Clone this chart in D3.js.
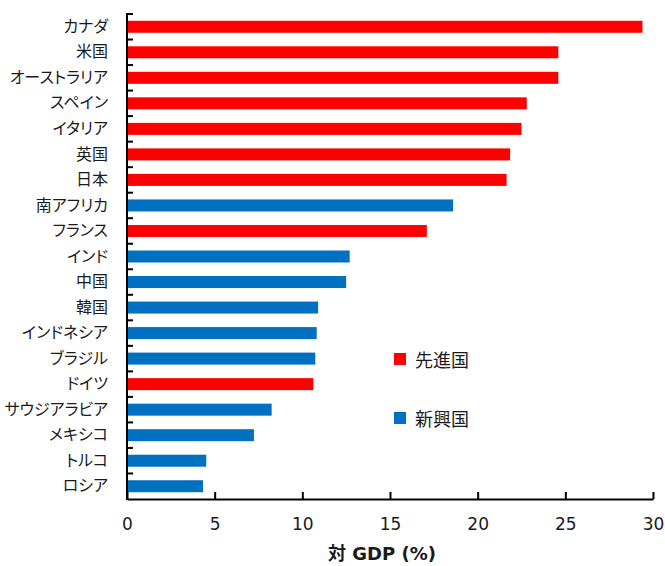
<!DOCTYPE html>
<html>
<head>
<meta charset="utf-8">
<script src="https://cdn.jsdelivr.net/npm/d3@7"></script>
<style>
  html, body { margin: 0; padding: 0; background: #fff; }
  svg { display: block; }
  .cat text { font-feature-settings: "palt"; }
</style>
</head>
<body>
<svg id="chart" width="665" height="566"></svg>
<script>
// Countries, top to bottom
const countries = ["カナダ", "米国", "オーストラリア", "スペイン", "イタリア", "英国", "日本",
  "南アフリカ", "フランス", "インド", "中国", "韓国", "インドネシア", "ブラジル", "ドイツ",
  "サウジアラビア", "メキシコ", "トルコ", "ロシア"];
// Value as % of GDP
const values = [29.4, 24.6, 24.6, 22.8, 22.5, 21.85, 21.65,
  18.6, 17.1, 12.7, 12.5, 10.9, 10.82, 10.74, 10.63,
  8.25, 7.24, 4.52, 4.34];
// Group: 先進国 (advanced) or 新興国 (emerging)
const groups = ["先進国", "先進国", "先進国", "先進国", "先進国", "先進国", "先進国",
  "新興国", "先進国", "新興国", "新興国", "新興国", "新興国", "新興国", "先進国",
  "新興国", "新興国", "新興国", "新興国"];
const legendGroups = ["先進国", "新興国"];
const groupColors = ["#FF0000", "#0070C0"];
const xTicks = [0, 5, 10, 15, 20, 25, 30];
const xTitle = "対 GDP (%)";

(function () {
  const data = countries.map((c, i) => ({ name: c, value: values[i], group: groups[i] }));

  const svg = d3.select("#chart");
  const plotLeft = 127, plotRight = 653, plotTop = 14, plotBottom = 499;
  const jpFont = "'Noto Sans CJK JP', 'Noto Sans', sans-serif";
  const latinFont = "'DejaVu Sans', Verdana, sans-serif";

  const x = d3.scaleLinear().domain([0, 30]).range([plotLeft, plotRight]);
  const y = d3.scaleBand().domain(countries).range([plotTop, plotBottom])
    .paddingInner(0.53).paddingOuter(0.265);
  const color = d3.scaleOrdinal().domain(legendGroups).range(groupColors);

  // Bars
  svg.append("g").selectAll("rect").data(data).join("rect")
    .attr("x", x(0))
    .attr("y", d => y(d.name))
    .attr("width", d => x(d.value) - x(0))
    .attr("height", y.bandwidth())
    .attr("fill", d => color(d.group));

  // Category labels
  const yAxis = svg.append("g").attr("class", "cat").attr("transform", `translate(${plotLeft},0)`)
    .call(d3.axisLeft(y).tickSize(0).tickPadding(19));
  yAxis.select(".domain").remove();
  yAxis.selectAll("text")
    .attr("font-family", jpFont).attr("font-size", 16).attr("fill", "#1a1a1a");

  // Vertical axis line with inward ticks at category boundaries
  const yLine = svg.append("g").attr("stroke", "#000").attr("stroke-width", 2);
  yLine.append("line").attr("x1", plotLeft).attr("x2", plotLeft)
    .attr("y1", plotTop - 1).attr("y2", plotBottom + 1);
  yLine.selectAll("line.tk").data(d3.range(countries.length)).join("line")
    .attr("class", "tk")
    .attr("x1", plotLeft).attr("x2", plotLeft + 6)
    .attr("y1", i => y.range()[0] + i * y.step())
    .attr("y2", i => y.range()[0] + i * y.step());

  // Horizontal axis
  const xAxis = svg.append("g").attr("transform", `translate(0,${plotBottom})`)
    .call(d3.axisBottom(x).tickValues(xTicks).tickSizeInner(-7).tickSizeOuter(0).tickPadding(19));
  xAxis.select(".domain").attr("stroke", "#000").attr("stroke-width", 2);
  xAxis.selectAll(".tick line").attr("stroke", "#000").attr("stroke-width", 2);
  xAxis.selectAll("text")
    .attr("font-family", latinFont)
    .attr("font-size", 17).attr("fill", "#1a1a1a");

  // Axis title
  svg.append("text")
    .attr("x", 382).attr("y", 553)
    .attr("text-anchor", "middle").attr("dominant-baseline", "central")
    .attr("font-family", latinFont + ", " + jpFont).attr("font-weight", "bold").attr("font-size", 18)
    .attr("fill", "#1a1a1a")
    .text(xTitle);

  // Legend
  const legend = svg.append("g").selectAll("g").data(legendGroups).join("g")
    .attr("transform", (d, i) => `translate(394,${359 + i * 59})`);
  legend.append("rect")
    .attr("x", 0).attr("y", -6).attr("width", 12).attr("height", 12)
    .attr("fill", d => color(d));
  legend.append("text")
    .attr("x", 21).attr("y", 0).attr("dominant-baseline", "central")
    .attr("font-family", jpFont).attr("font-size", 18).attr("fill", "#1a1a1a")
    .text(d => d);
})();
</script>
</body>
</html>
